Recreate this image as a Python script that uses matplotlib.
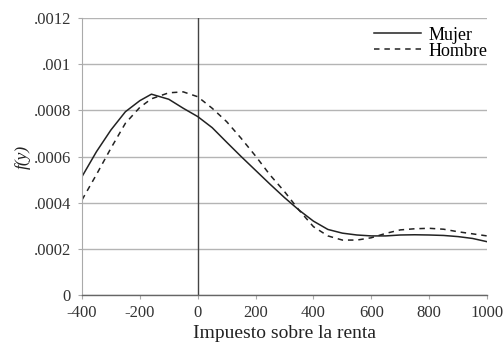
import numpy as np
import matplotlib
matplotlib.use("Agg")
import matplotlib.pyplot as plt

# Impuesto sobre la renta (eje x)
x_vals = [-400, -350, -300, -250, -200, -160, -100, -50, 0, 50, 100, 150, 200,
          250, 300, 350, 400, 450, 500, 550, 600, 650, 700, 750, 800, 850,
          900, 950, 1000]

# densidades (x 1e-4)
mujer = [5.13, 6.21, 7.15, 7.94, 8.42, 8.70, 8.48, 8.09, 7.73, 7.25, 6.62, 6.00,
         5.40, 4.80, 4.22, 3.68, 3.20, 2.84, 2.68, 2.60, 2.56, 2.56, 2.60, 2.61,
         2.60, 2.58, 2.53, 2.45, 2.31]
hombre = [4.12, 5.22, 6.36, 7.44, 8.13, 8.50, 8.76, 8.80, 8.59, 8.09, 7.51, 6.79,
          6.02, 5.20, 4.48, 3.68, 2.96, 2.56, 2.38, 2.38, 2.48, 2.67, 2.82, 2.87,
          2.89, 2.85, 2.74, 2.65, 2.56]

x_ticks = [-400, -200, 0, 200, 400, 600, 800, 1000]
y_ticks = [0, 0.0002, 0.0004, 0.0006, 0.0008, 0.001, 0.0012]
y_tick_labels = ["0", ".0002", ".0004", ".0006", ".0008", ".001", ".0012"]

plt.rcParams['font.family'] = ['Liberation Serif', 'DejaVu Serif']

fig = plt.figure(figsize=(5.04, 3.45), dpi=100)
ax = fig.add_axes([0.1627, 0.1449, 0.8036, 0.8029])

x = np.array(x_vals)
ax.plot(x, np.array(mujer) * 1e-4, color='#222222', lw=1.1, label='Mujer')
ax.plot(x, np.array(hombre) * 1e-4, color='#222222', lw=1.1,
        linestyle=(0, (3.6, 3.2)), label='Hombre')

ax.axvline(0, color='#444444', lw=1.0, zorder=1)

ax.set_xlim(-400, 1000)
ax.set_ylim(0, 0.0012)
ax.set_xticks(x_ticks)
ax.set_xticklabels([str(t) for t in x_ticks])
ax.set_yticks(y_ticks)
ax.set_yticklabels(y_tick_labels)

ax.grid(axis='y', color='#b4b4b4', lw=1.0, zorder=0)
ax.set_axisbelow(True)
for s in ['top', 'right']:
    ax.spines[s].set_visible(False)
ax.spines['left'].set_color('#aaaaaa')
ax.spines['bottom'].set_color('#666666')
ax.spines['bottom'].set_linewidth(1.0)
ax.tick_params(axis='both', direction='out', length=3, color='#aaaaaa',
               labelsize=12, labelcolor='#333333')
ax.tick_params(axis='y', pad=5)
ax.tick_params(axis='x', pad=4)

ax.set_xlabel('Impuesto sobre la renta', fontsize=14, color='#222222', labelpad=3)
ax.set_ylabel('f(y)', fontsize=12.5, style='italic', color='#222222', labelpad=2)

ax.legend(loc='upper right', frameon=False, fontsize=13, handlelength=2.6,
          handletextpad=0.45, labelspacing=-0.05, borderaxespad=0.0,
          bbox_to_anchor=(1.02, 0.995))

fig.savefig('out.png', dpi=100)
